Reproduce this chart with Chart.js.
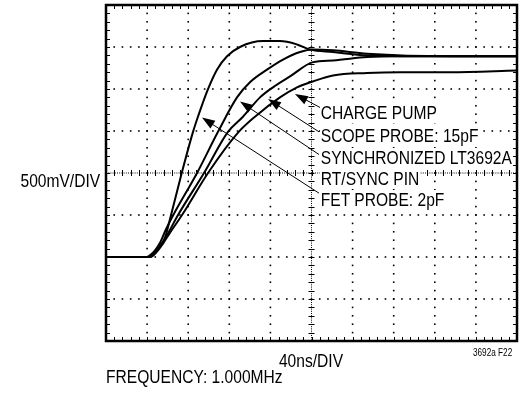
<!DOCTYPE html>
<html>
<head>
<meta charset="utf-8">
<script src="https://cdn.jsdelivr.net/npm/chart.js@4.4.1/dist/chart.umd.min.js"></script>
<style>
  body { margin: 0; background: #fff; }
  #wrap {
    position: relative; width: 525px; height: 394px;
    font-family: "Liberation Sans", Arial, sans-serif;
    color: #000;
  }
  #scope { position: absolute; left: 0; top: 0; }
  /* narrow lettering: squeeze the sans face horizontally */
  .lbl {
    position: absolute; font-size: 19px; line-height: 20px; white-space: nowrap;
    transform: scaleX(0.82); transform-origin: 0 50%;
  }
  .lbl.rt { transform-origin: 100% 50%; }
  .lbl.mid { transform: translateX(-50%) scaleX(0.82); transform-origin: 50% 50%; }
  .tag { background: #fff; padding: 0 1px; }
  .fig { font-size: 10px; line-height: 12px; }
</style>
</head>
<body>
<div id="wrap">
  <canvas id="scope" width="525" height="394"></canvas>

  <div class="lbl rt" style="right:425px; top:171px">500mV/DIV</div>
  <div class="lbl mid" style="left:311px; top:351px">40ns/DIV</div>
  <div class="lbl" style="left:106px; top:367px">FREQUENCY: 1.000MHz</div>
  <div class="lbl fig" style="left:473px; top:347px">3692a F22</div>

  <!-- trace callouts -->
  <div class="lbl tag" style="left:320px; top:103px">CHARGE PUMP</div>
  <div class="lbl tag" style="left:320px; top:126px">SCOPE PROBE: 15pF</div>
  <div class="lbl tag" style="left:320px; top:148px">SYNCHRONIZED LT3692A</div>
  <div class="lbl tag" style="left:320px; top:169px">RT/SYNC PIN</div>
  <div class="lbl tag" style="left:320px; top:190px">FET PROBE: 2pF</div>
</div>

<script>
// screen divisions: 40ns/div across, 500mV/div up
const timeDivNs = [0, 40, 80, 120, 160, 200, 240, 280, 320, 360, 400];
const voltDivV = [-2, -1.5, -1, -0.5, 0, 0.5, 1, 1.5, 2];

// FET probe, 2pF
const fetProbeNs = [0, 40, 44.8, 49.6, 53.5, 57.4, 63.3, 73.7, 84.7, 89.5, 98.3, 108, 117.8, 130.4, 152.8, 169.3, 185.9, 198.5, 220.9, 254, 334.8, 400];
const fetProbeV  = [-1, -1, -0.97, -0.92, -0.85, -0.77, -0.5, 0, 0.49, 0.67, 0.97, 1.23, 1.39, 1.5, 1.57, 1.57, 1.53, 1.47, 1.44, 1.4, 1.39, 1.39];

// synchronized LT3692A RT/SYNC pin
const syncPinNs = [0, 40, 42.8, 47.7, 52.6, 58.4, 65.5, 88.6, 109, 127.5, 140.1, 156.7, 172.3, 188.8, 201.4, 220.9, 254, 334.8, 400];
const syncPinV  = [-1, -1, -0.98, -0.92, -0.83, -0.67, -0.5, 0, 0.49, 0.9, 1.08, 1.23, 1.35, 1.44, 1.47, 1.46, 1.42, 1.39, 1.39];

// scope probe, 15pF
const scopeProbeNs = [0, 40, 42.8, 48.7, 54.5, 60.3, 70.1, 95.4, 118.7, 133.3, 149.9, 162.5, 179.1, 201.5, 220.9, 254, 286.1, 334.8, 400];
const scopeProbeV  = [-1, -1, -1, -0.94, -0.84, -0.72, -0.5, 0, 0.49, 0.67, 0.9, 1.02, 1.15, 1.32, 1.34, 1.38, 1.39, 1.39, 1.39];

// charge pump
const chargePumpNs = [0, 40, 42.8, 49.6, 55.5, 62.3, 74, 99.3, 128.5, 145, 169.3, 185.9, 201.4, 220.9, 254, 286.1, 334.8, 400];
const chargePumpV  = [-1, -1, -1, -0.935, -0.84, -0.71, -0.5, 0, 0.48, 0.67, 0.9, 1.02, 1.09, 1.16, 1.19, 1.2, 1.2, 1.22];

function pts(xs, ys) {
  return xs.map((t, i) => ({ x: t, y: ys[i] }));
}

function trace(xs, ys) {
  return {
    data: pts(xs, ys),
    borderColor: "#000",
    borderWidth: 2,
    pointRadius: 0,
    cubicInterpolationMode: "monotone",
    fill: false
  };
}

// scope graticule: dotted divisions, ticked centre cross, ticked frame
const graticule = {
  id: "graticule",
  beforeDatasetsDraw(chart) {
    const { ctx, chartArea: a, scales: { x, y } } = chart;
    const tMin = timeDivNs[0], tMax = timeDivNs[timeDivNs.length - 1];
    const vMin = voltDivV[0], vMax = voltDivV[voltDivV.length - 1];
    const tStep = (timeDivNs[1] - timeDivNs[0]) / 5;
    const vStep = (voltDivV[1] - voltDivV[0]) / 5;
    const tMid = (tMin + tMax) / 2, vMid = (vMin + vMax) / 2;

    const minorT = [], minorV = [];
    for (let k = 0; k <= Math.round((tMax - tMin) / tStep); k++) minorT.push(tMin + k * tStep);
    for (let k = 0; k <= Math.round((vMax - vMin) / vStep); k++) minorV.push(vMin + k * vStep);

    ctx.save();
    ctx.fillStyle = "#000";

    // dotted division lines
    timeDivNs.slice(1, -1).forEach(t => {
      if (t === tMid) return;
      const px = x.getPixelForValue(t);
      minorV.forEach(v => ctx.fillRect(px - 0.8, y.getPixelForValue(v) - 0.8, 1.6, 1.6));
    });
    voltDivV.slice(1, -1).forEach(v => {
      if (v === vMid) return;
      const py = y.getPixelForValue(v);
      minorT.forEach(t => ctx.fillRect(x.getPixelForValue(t) - 0.8, py - 0.8, 1.6, 1.6));
    });

    // centre cross
    const cx = x.getPixelForValue(tMid), cy = y.getPixelForValue(vMid);
    ctx.strokeStyle = "#000";
    ctx.lineWidth = 1;
    ctx.setLineDash([1, 1.2]);
    ctx.beginPath();
    ctx.moveTo(cx, a.top); ctx.lineTo(cx, a.bottom);
    ctx.moveTo(a.left, cy); ctx.lineTo(a.right, cy);
    ctx.stroke();
    ctx.setLineDash([]);
    ctx.beginPath();
    minorV.forEach(v => {
      const py = Math.round(y.getPixelForValue(v)) + 0.5;
      ctx.moveTo(cx - 3, py); ctx.lineTo(cx + 3, py);
    });
    minorT.forEach(t => {
      const px = Math.round(x.getPixelForValue(t)) + 0.5;
      ctx.moveTo(px, cy - 3); ctx.lineTo(px, cy + 3);
    });
    ctx.stroke();

    // frame with inward ticks
    ctx.beginPath();
    minorT.forEach(t => {
      const px = Math.round(x.getPixelForValue(t)) + 0.5;
      ctx.moveTo(px, a.top); ctx.lineTo(px, a.top + 4);
      ctx.moveTo(px, a.bottom); ctx.lineTo(px, a.bottom - 4);
    });
    minorV.forEach(v => {
      const py = Math.round(y.getPixelForValue(v)) + 0.5;
      ctx.moveTo(a.left, py); ctx.lineTo(a.left + 4, py);
      ctx.moveTo(a.right, py); ctx.lineTo(a.right - 4, py);
    });
    ctx.stroke();
    ctx.lineWidth = 2.5;
    ctx.strokeRect(a.left, a.top, a.width, a.height);
    ctx.restore();
  }
};

// leader lines from each callout to its trace, in ns / V
const callouts = [
  { from: [208.3, 0.78], to: [183.9, 0.94] },
  { from: [207.3, 0.49], to: [157.7, 0.88] },
  { from: [207.3, 0.22], to: [130.4, 0.85] },
  { from: [207.3, -0.24], to: [93.4, 0.66] }
];

const leaders = {
  id: "leaders",
  afterDatasetsDraw(chart) {
    const { ctx, scales: { x, y } } = chart;
    ctx.save();
    ctx.strokeStyle = "#000";
    ctx.fillStyle = "#000";
    ctx.lineWidth = 1;
    callouts.forEach(c => {
      const x0 = x.getPixelForValue(c.from[0]), y0 = y.getPixelForValue(c.from[1]);
      const x1 = x.getPixelForValue(c.to[0]), y1 = y.getPixelForValue(c.to[1]);
      const ang = Math.atan2(y1 - y0, x1 - x0);
      const cos = Math.cos(ang), sin = Math.sin(ang);
      ctx.beginPath();
      ctx.moveTo(x0, y0);
      ctx.lineTo(x1 - 9 * cos, y1 - 9 * sin);
      ctx.stroke();
      ctx.beginPath();
      ctx.moveTo(x1, y1);
      ctx.lineTo(x1 - 13 * cos + 4.5 * sin, y1 - 13 * sin - 4.5 * cos);
      ctx.lineTo(x1 - 13 * cos - 4.5 * sin, y1 - 13 * sin + 4.5 * cos);
      ctx.closePath();
      ctx.fill();
    });
    ctx.restore();
  }
};

new Chart(document.getElementById("scope"), {
  type: "line",
  data: {
    datasets: [
      trace(fetProbeNs, fetProbeV),
      trace(syncPinNs, syncPinV),
      trace(scopeProbeNs, scopeProbeV),
      trace(chargePumpNs, chargePumpV)
    ]
  },
  options: {
    responsive: false,
    animation: false,
    layout: { padding: { left: 106, top: 5, right: 8, bottom: 53 } },
    plugins: { legend: { display: false }, tooltip: { enabled: false } },
    scales: {
      x: { type: "linear", min: timeDivNs[0], max: timeDivNs[timeDivNs.length - 1], display: false },
      y: { type: "linear", min: voltDivV[0], max: voltDivV[voltDivV.length - 1], display: false }
    }
  },
  plugins: [graticule, leaders]
});
</script>
</body>
</html>
